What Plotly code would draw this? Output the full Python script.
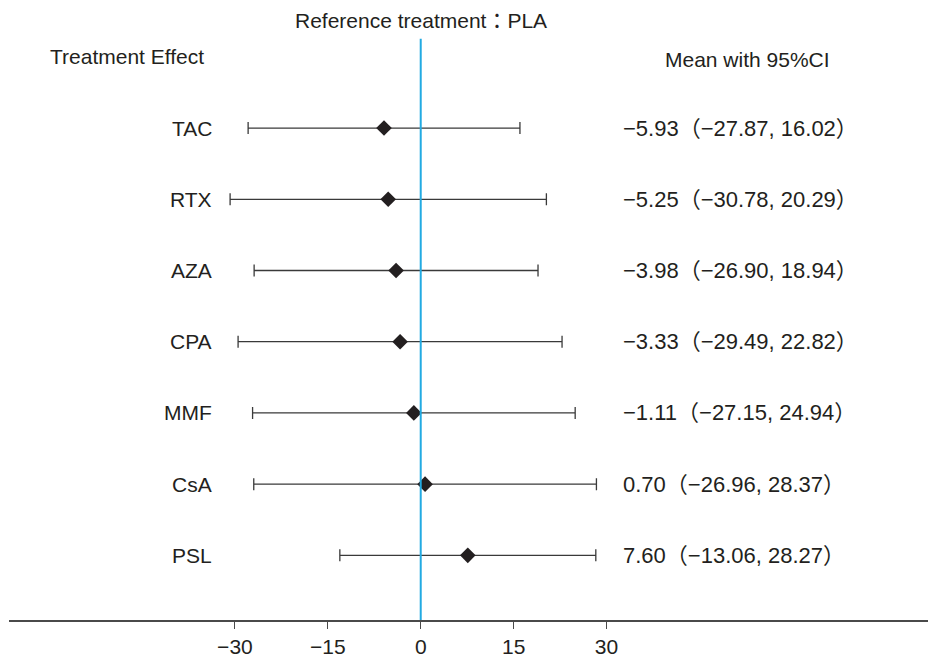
import plotly.graph_objects as go

# ---- data ----
treatments = ["TAC", "RTX", "AZA", "CPA", "MMF", "CsA", "PSL"]
means = [-5.93, -5.25, -3.98, -3.33, -1.11, 0.70, 7.60]
lower = [-27.87, -30.78, -26.90, -29.49, -27.15, -26.96, -13.06]
upper = [16.02, 20.29, 18.94, 22.82, 24.94, 28.37, 28.27]
tick_vals = [-30, -15, 0, 15, 30]
reference = "PLA"

TXT = "#231f20"
FONT = "Liberation Sans, Arial, Noto Sans CJK JP, sans-serif"
FS = 21


def fmt(v):
    s = f"{abs(v):.2f}"
    return "\u2212" + s if v < 0 else s


fig = go.Figure()

# reference vertical line (x = 0)
fig.add_shape(type="line", xref="x", yref="y", x0=0, x1=0,
              y0=-1.253, y1=6.908, line=dict(color="#22aae2", width=2))

fig.add_trace(go.Scatter(
    x=means, y=treatments, mode="markers",
    marker=dict(symbol="diamond", size=12, color=TXT),
    error_x=dict(type="data", symmetric=False,
                 array=[u - m for u, m in zip(upper, means)],
                 arrayminus=[m - l for m, l in zip(means, lower)],
                 color="#3a3a3a", thickness=1.3, width=6),
    showlegend=False, hoverinfo="skip",
))

annotations = []
for t, m, l, u in zip(treatments, means, lower, upper):
    annotations.append(dict(x=-33.38, y=t, xref="x", yref="y", text=t,
                            xanchor="right", yanchor="middle", showarrow=False,
                            font=dict(size=FS, color=TXT, family=FONT)))
    annotations.append(dict(x=32.35, y=t, xref="x", yref="y",
                            text=f"{fmt(m)}（{fmt(l)}, {fmt(u)}）",
                            xanchor="left", yanchor="middle", showarrow=False,
                            font=dict(size=22, color=TXT, family=FONT)))

annotations.append(dict(x=-47.4, y=-1.0, xref="x", yref="y", text="Treatment Effect",
                        xanchor="center", yanchor="middle", showarrow=False,
                        font=dict(size=FS, color=TXT, family=FONT)))
annotations.append(dict(x=52.77, y=-0.96, xref="x", yref="y", text="Mean with 95%CI",
                        xanchor="center", yanchor="middle", showarrow=False,
                        font=dict(size=FS, color=TXT, family=FONT)))
annotations.append(dict(x=0, y=-1.504, xref="x", yref="y",
                        text=f"Reference treatment：{reference}",
                        xanchor="center", yanchor="middle", showarrow=False,
                        font=dict(size=FS, color=TXT, family=FONT)))

fig.update_layout(
    width=928, height=650,
    margin=dict(l=1, r=0, t=0, b=35),
    paper_bgcolor="white", plot_bgcolor="white",
    annotations=annotations,
    xaxis=dict(range=[-66.48, 83.2], tickvals=tick_vals, showgrid=False,
               zeroline=False, showline=True, linecolor="#4a4a4a", linewidth=1.5,
               ticks="outside", ticklen=7, tickcolor="#4a4a4a", tickwidth=1.3,
               tickfont=dict(size=FS, color=TXT, family=FONT)),
    yaxis=dict(type="category", categoryarray=treatments, range=[6.908, -1.686],
               visible=False, showgrid=False, zeroline=False),
)

fig.write_html("out.html")
